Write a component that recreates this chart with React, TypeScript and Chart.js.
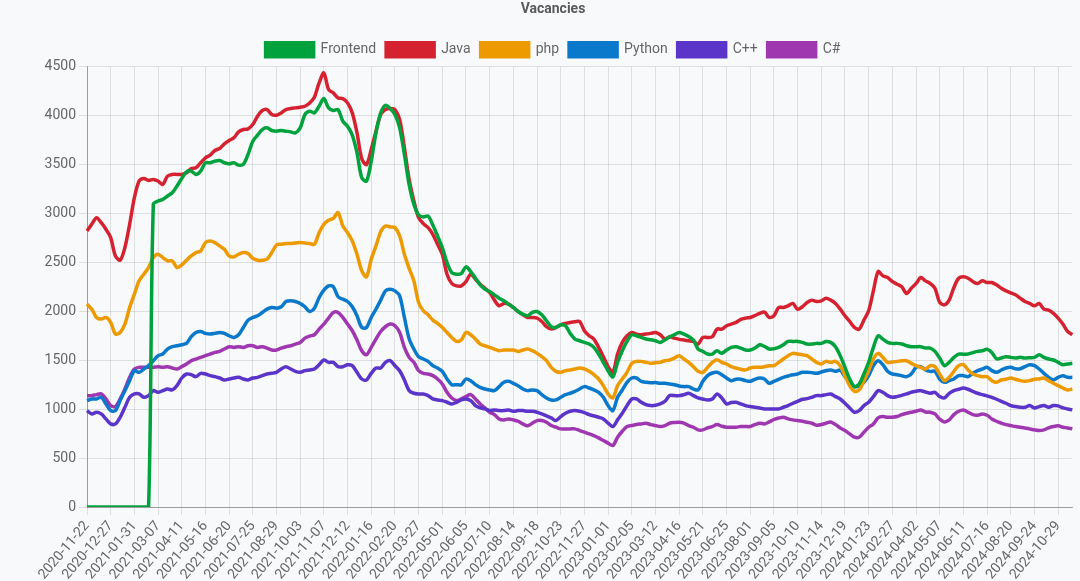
import { useEffect, useRef } from 'react';
import { Chart, registerables } from 'chart.js';

Chart.register(...registerables);

const tickLabels = [
  '2020-11-22', '2020-12-27', '2021-01-31', '2021-03-07', '2021-04-11', '2021-05-16',
  '2021-06-20', '2021-07-25', '2021-08-29', '2021-10-03', '2021-11-07', '2021-12-12',
  '2022-01-16', '2022-02-20', '2022-03-27', '2022-05-01', '2022-06-05', '2022-07-10',
  '2022-08-14', '2022-09-18', '2022-10-23', '2022-11-27', '2023-01-01', '2023-02-05',
  '2023-03-12', '2023-04-16', '2023-05-21', '2023-06-25', '2023-08-01', '2023-09-05',
  '2023-10-10', '2023-11-14', '2023-12-19', '2024-01-23', '2024-02-27', '2024-04-02',
  '2024-05-07', '2024-06-11', '2024-07-16', '2024-08-20', '2024-09-24', '2024-10-29',
];
const POINTS_PER_TICK = 5;

const frontend = [
  0, 0, 0, 0, 0, 0, 0, 0, 0, 0, 0, 0, 0, 0,
  3094, 3128, 3145, 3179, 3213, 3281,
  3359, 3427, 3434, 3400, 3434, 3519, 3519, 3536, 3543, 3519,
  3509, 3519, 3495, 3502, 3604, 3740, 3801, 3859, 3876, 3849,
  3842, 3849, 3842, 3835, 3825, 3876, 4012, 4046, 4029, 4097,
  4175, 4080, 4053, 4063, 3944, 3893, 3801, 3621, 3366, 3332,
  3536, 3825, 4029, 4107, 4073, 4012, 3876, 3604, 3298, 3094,
  2985, 2965, 2975, 2883, 2771, 2652, 2499, 2397, 2380, 2387,
  2455, 2407, 2339, 2271, 2227, 2203, 2169, 2135, 2108, 2074,
  2040, 1999, 1972, 1955, 1989, 1999, 1965, 1904, 1843, 1836,
  1863, 1853, 1775, 1717, 1700, 1683, 1666, 1632, 1564, 1479,
  1394, 1330, 1479, 1598, 1693, 1761, 1751, 1734, 1717, 1710,
  1700, 1683, 1707, 1741, 1761, 1785, 1768, 1744, 1707, 1615,
  1591, 1564, 1564, 1598, 1571, 1605, 1632, 1639, 1625, 1605,
  1605, 1625, 1659, 1642, 1615, 1618, 1632, 1659, 1693, 1693,
  1693, 1683, 1666, 1666, 1673, 1673, 1693, 1683, 1639, 1547,
  1428, 1309, 1231, 1258, 1360, 1479, 1632, 1751, 1717, 1683,
  1673, 1673, 1666, 1649, 1639, 1639, 1639, 1625, 1625, 1591,
  1523, 1445, 1479, 1530, 1564, 1562, 1564, 1578, 1591, 1598,
  1612, 1580, 1515, 1523, 1537, 1530, 1523, 1530, 1523, 1527,
  1530, 1557, 1530, 1513, 1503, 1479, 1455, 1462, 1469,
];

const java = [
  2822, 2890, 2958, 2907, 2840, 2754, 2567, 2523, 2652, 2890,
  3162, 3332, 3359, 3339, 3349, 3332, 3298, 3383, 3400, 3400,
  3400, 3417, 3461, 3468, 3519, 3570, 3597, 3645, 3665, 3713,
  3747, 3774, 3835, 3859, 3866, 3910, 3995, 4053, 4063, 4012,
  4005, 4029, 4063, 4073, 4080, 4087, 4097, 4131, 4189, 4335,
  4437, 4267, 4233, 4182, 4175, 4131, 4029, 3825, 3560, 3500,
  3655, 3842, 4012, 4063, 4073, 4063, 3961, 3672, 3349, 3128,
  2958, 2897, 2856, 2788, 2686, 2584, 2380, 2285, 2261, 2261,
  2305, 2380, 2329, 2278, 2237, 2193, 2115, 2057, 2081, 2074,
  2040, 1999, 1965, 1938, 1938, 1931, 1897, 1843, 1819, 1836,
  1863, 1877, 1887, 1894, 1897, 1802, 1751, 1717, 1632, 1537,
  1435, 1377, 1564, 1683, 1751, 1785, 1768, 1761, 1768, 1775,
  1785, 1761, 1717, 1741, 1727, 1714, 1707, 1700, 1693, 1666,
  1734, 1734, 1741, 1819, 1819, 1853, 1870, 1887, 1918, 1931,
  1938, 1958, 1979, 1992, 1938, 1955, 2040, 2040, 2057, 2081,
  2023, 2047, 2091, 2115, 2101, 2108, 2135, 2115, 2081, 2023,
  1955, 1897, 1836, 1819, 1911, 2006, 2210, 2407, 2363, 2346,
  2305, 2278, 2251, 2183, 2237, 2283, 2346, 2312, 2285, 2237,
  2091, 2067, 2115, 2244, 2339, 2353, 2339, 2305, 2285, 2312,
  2295, 2295, 2271, 2237, 2210, 2190, 2169, 2135, 2101, 2081,
  2057, 2081, 2023, 2013, 1979, 1931, 1870, 1795, 1761,
];

const php = [
  2074, 2023, 1938, 1921, 1938, 1887, 1768, 1785, 1870, 2040,
  2176, 2312, 2380, 2448, 2550, 2584, 2550, 2516, 2516, 2448,
  2475, 2523, 2567, 2601, 2618, 2703, 2720, 2703, 2669, 2635,
  2567, 2557, 2584, 2601, 2591, 2543, 2523, 2523, 2533, 2601,
  2679, 2686, 2693, 2693, 2700, 2703, 2700, 2693, 2686, 2805,
  2890, 2931, 2950, 3010, 2873, 2805, 2720, 2584, 2414, 2353,
  2533, 2669, 2815, 2873, 2863, 2856, 2771, 2584, 2440, 2312,
  2091, 2006, 1965, 1911, 1877, 1836, 1785, 1734, 1693, 1707,
  1785, 1761, 1717, 1666, 1649, 1632, 1615, 1598, 1605, 1605,
  1605, 1591, 1605, 1615, 1598, 1571, 1537, 1496, 1428, 1387,
  1377, 1394, 1401, 1411, 1421, 1411, 1387, 1353, 1309, 1241,
  1156, 1115, 1241, 1309, 1377, 1469, 1489, 1489, 1479, 1470,
  1476, 1479, 1496, 1503, 1523, 1547, 1513, 1479, 1435, 1387,
  1377, 1428, 1479, 1506, 1479, 1462, 1435, 1421, 1408, 1401,
  1421, 1428, 1428, 1435, 1445, 1445, 1479, 1513, 1547, 1571,
  1564, 1557, 1547, 1513, 1479, 1462, 1489, 1479, 1489, 1445,
  1343, 1241, 1183, 1197, 1292, 1394, 1513, 1571, 1530, 1479,
  1482, 1489, 1496, 1496, 1469, 1445, 1428, 1411, 1445, 1435,
  1360, 1292, 1326, 1387, 1445, 1455, 1401, 1360, 1343, 1333,
  1333, 1292, 1275, 1299, 1306, 1319, 1306, 1292, 1285, 1292,
  1306, 1309, 1319, 1292, 1265, 1241, 1217, 1197, 1207,
];

const python = [
  1088, 1105, 1105, 1122, 1054, 986, 986, 1088, 1190, 1292,
  1394, 1377, 1411, 1445, 1496, 1547, 1564, 1615, 1639, 1649,
  1659, 1673, 1741, 1785, 1795, 1775, 1768, 1775, 1785, 1775,
  1751, 1734, 1761, 1836, 1911, 1938, 1955, 1989, 2023, 2040,
  2033, 2047, 2101, 2108, 2101, 2081, 2047, 1999, 2033, 2142,
  2217, 2261, 2251, 2149, 2125, 2101, 2047, 1955, 1836, 1836,
  1938, 2023, 2115, 2210, 2227, 2210, 2159, 1938, 1720, 1615,
  1537, 1513, 1489, 1445, 1421, 1387, 1309, 1251, 1251, 1251,
  1309, 1292, 1251, 1224, 1207, 1197, 1190, 1231, 1275, 1285,
  1265, 1241, 1207, 1190, 1197, 1190, 1149, 1115, 1095, 1095,
  1122, 1149, 1163, 1183, 1207, 1231, 1217, 1197, 1173, 1122,
  1037, 986, 1122, 1197, 1275, 1319, 1319, 1285, 1275, 1270,
  1272, 1265, 1265, 1258, 1251, 1238, 1231, 1231, 1207, 1197,
  1285, 1343, 1370, 1377, 1353, 1319, 1292, 1306, 1306, 1292,
  1285, 1306, 1319, 1309, 1265, 1285, 1306, 1326, 1340, 1353,
  1360, 1377, 1377, 1374, 1367, 1380, 1394, 1401, 1387, 1401,
  1333, 1285, 1231, 1238, 1275, 1343, 1445, 1496, 1455, 1387,
  1360, 1353, 1343, 1333, 1360, 1428, 1435, 1401, 1387, 1387,
  1309, 1275, 1292, 1309, 1343, 1343, 1333, 1367, 1394, 1411,
  1428, 1394, 1377, 1401, 1421, 1428, 1414, 1414, 1435, 1455,
  1445, 1411, 1367, 1326, 1299, 1326, 1343, 1326, 1326,
];

const cpp = [
  986, 952, 969, 952, 901, 850, 850, 918, 1020, 1122,
  1156, 1156, 1122, 1139, 1190, 1173, 1190, 1207, 1197, 1241,
  1319, 1360, 1353, 1333, 1367, 1360, 1343, 1333, 1319, 1299,
  1309, 1319, 1326, 1309, 1299, 1319, 1326, 1343, 1360, 1367,
  1377, 1411, 1435, 1411, 1387, 1377, 1394, 1401, 1411, 1455,
  1503, 1479, 1479, 1435, 1435, 1455, 1445, 1377, 1309, 1299,
  1367, 1421, 1421, 1479, 1496, 1445, 1394, 1299, 1190, 1163,
  1156, 1156, 1139, 1105, 1095, 1088, 1071, 1054, 1071, 1095,
  1105, 1088, 1037, 1013, 1003, 986, 993, 986, 986, 993,
  979, 986, 986, 979, 979, 969, 952, 932, 911, 884,
  925, 959, 979, 986, 979, 966, 945, 932, 918, 901,
  857, 823, 891, 959, 1037, 1105, 1105, 1071, 1047, 1037,
  1040, 1054, 1081, 1139, 1139, 1139, 1149, 1163, 1139, 1115,
  1105, 1095, 1105, 1156, 1115, 1054, 1068, 1071, 1054, 1037,
  1027, 1020, 1013, 1003, 1003, 1003, 1003, 1020, 1037, 1061,
  1081, 1102, 1108, 1122, 1139, 1139, 1149, 1156, 1129, 1105,
  1061, 1013, 969, 986, 1037, 1071, 1129, 1190, 1173, 1139,
  1122, 1129, 1142, 1156, 1173, 1183, 1190, 1176, 1163, 1173,
  1129, 1115, 1163, 1190, 1204, 1217, 1204, 1183, 1163, 1149,
  1136, 1122, 1102, 1081, 1061, 1037, 1027, 1020, 1020, 1037,
  1013, 1027, 1037, 1020, 1037, 1034, 1013, 1003, 993,
];

const csharp = [
  1139, 1139, 1149, 1156, 1105, 1037, 1027, 1105, 1207, 1326,
  1411, 1428, 1428, 1428, 1428, 1435, 1428, 1435, 1421, 1411,
  1435, 1462, 1496, 1513, 1530, 1547, 1564, 1581, 1591, 1615,
  1639, 1632, 1639, 1632, 1649, 1649, 1632, 1639, 1625, 1605,
  1605, 1625, 1639, 1649, 1666, 1683, 1727, 1748, 1761, 1819,
  1870, 1931, 1989, 1989, 1938, 1870, 1802, 1707, 1598, 1557,
  1632, 1717, 1795, 1843, 1870, 1853, 1785, 1632, 1530, 1479,
  1394, 1367, 1360, 1343, 1309, 1258, 1173, 1115, 1088, 1105,
  1129, 1149, 1105, 1054, 1013, 969, 945, 901, 891, 901,
  891, 877, 850, 830, 857, 884, 884, 867, 833, 816,
  799, 799, 799, 799, 782, 765, 748, 731, 707, 680,
  653, 629, 714, 775, 823, 833, 843, 850, 857, 843,
  833, 823, 833, 857, 864, 867, 857, 833, 816, 789,
  789, 809, 823, 843, 826, 816, 816, 816, 823, 823,
  823, 843, 857, 850, 870, 895, 910, 918, 901, 891,
  884, 877, 867, 857, 837, 843, 857, 870, 843, 809,
  782, 748, 714, 714, 765, 816, 850, 911, 925, 918,
  918, 925, 945, 959, 969, 979, 993, 972, 969, 952,
  898, 870, 891, 945, 979, 993, 969, 945, 938, 952,
  938, 901, 877, 857, 843, 833, 823, 816, 809, 799,
  789, 782, 789, 809, 823, 830, 816, 809, 799,
];

const seriesNames = ['Frontend', 'Java', 'php', 'Python', 'C++', 'C#'];
const seriesData = [frontend, java, php, python, cpp, csharp];
const seriesColors = ['#00a23e', '#d52231', '#ec9a00', '#0a78cb', '#5b34c9', '#9f37b0'];

const BG = '#f8f9fa';
const TEXT = '#666666';

export default function App() {
  const ref = useRef<HTMLCanvasElement>(null);

  useEffect(() => {
    document.documentElement.style.background = BG;
    document.body.style.background = BG;
    const labels = frontend.map((_, i) =>
      i % POINTS_PER_TICK === 0 ? (tickLabels[i / POINTS_PER_TICK] ?? '') : ''
    );
    Chart.defaults.font.family = 'Roboto, "Noto Sans", sans-serif';
    Chart.defaults.font.size = 14;
    Chart.defaults.color = TEXT;

    const chart = new Chart(ref.current as HTMLCanvasElement, {
      type: 'line',
      data: {
        labels,
        datasets: seriesNames.map((name, k) => ({
          label: name,
          data: seriesData[k],
          borderColor: seriesColors[k],
          backgroundColor: seriesColors[k],
          borderWidth: 3.5,
          pointRadius: 0,
          pointHoverRadius: 0,
          tension: 0.3,
          fill: false,
        })),
      },
      options: {
        animation: false,
        responsive: false,
        maintainAspectRatio: false,
        layout: { padding: 0 },
        plugins: {
          title: {
            display: true,
            text: 'Vacancies',
            color: '#5a5a5a',
            font: { size: 14, weight: 'bold' },
            padding: { top: 1, bottom: 15 },
          },
          legend: {
            display: true,
            labels: {
              boxWidth: 48,
              boxHeight: 14,
              padding: 10,
              color: TEXT,
              font: { size: 14 },
            },
          },
          tooltip: { enabled: false },
        },
        scales: {
          x: {
            grid: { color: 'rgba(0,0,0,0.1)', tickLength: 8 },
            border: { color: 'rgba(0,0,0,0.3)' },
            ticks: {
              autoSkip: false,
              minRotation: 50,
              maxRotation: 50,
              color: TEXT,
              font: { size: 14 },
            },
            afterBuildTicks: (axis: any) => {
              axis.ticks = axis.ticks.filter(
                (t: any) => t.value % POINTS_PER_TICK === 0 && t.value < tickLabels.length * POINTS_PER_TICK
              );
            },
          },
          y: {
            min: 0,
            max: 4500,
            grid: { color: 'rgba(0,0,0,0.1)', tickLength: 8 },
            border: { color: 'rgba(0,0,0,0.3)' },
            ticks: {
              stepSize: 500,
              color: TEXT,
              font: { size: 14 },
              callback: (v: any) => String(v),
            },
            afterFit: (scale: any) => {
              scale.width = 55;
            },
          },
        },
      },
    } as any);
    return () => chart.destroy();
  }, []);

  return (
    <div style={{ position: 'fixed', inset: 0, background: BG, overflow: 'hidden' }}>
      <canvas
        ref={ref}
        width={1042}
        height={586}
        style={{ position: 'absolute', left: 32, top: 0, width: 1042, height: 586 }}
      />
    </div>
  );
}
